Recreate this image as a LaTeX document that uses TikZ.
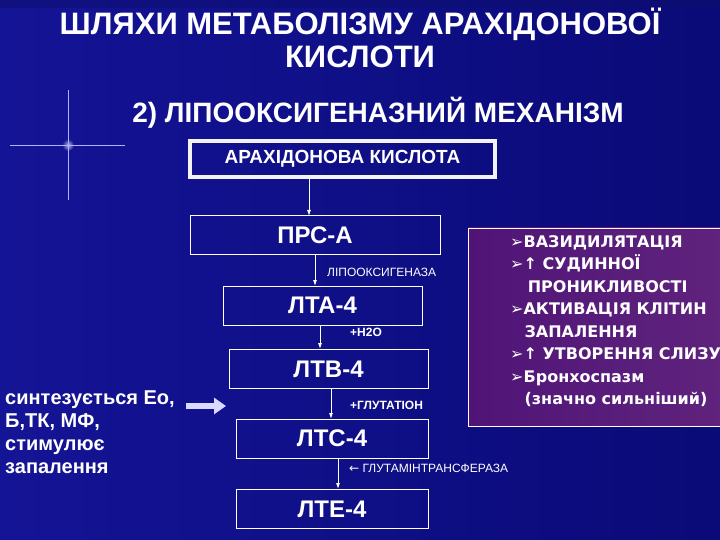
\documentclass[tikz,border=0pt]{standalone}
\usepackage{fontspec}
\setmainfont{Liberation Sans}
\newfontfamily\dvs{DejaVu Sans}
\usetikzlibrary{arrows.meta}
\definecolor{bgl}{RGB}{20,20,150}
\definecolor{bgr}{RGB}{10,10,120}
\definecolor{bgt}{RGB}{14,14,110}
\definecolor{pl}{RGB}{80,20,120}
\definecolor{pr}{RGB}{95,35,125}
\begin{document}
\begin{tikzpicture}[x=1pt,y=-1pt,
  box/.style={draw=white,line width=0.9pt,fill=none,minimum width=#1,minimum height=39pt,inner sep=0pt,text=white,font=\bfseries\fontsize{24}{26}\selectfont},
  box/.default=200pt,
  flow/.style={draw=white,line width=0.9pt,-{Latex[length=6pt,width=4pt]}},
  lbl/.style={anchor=west,text=white,font=\bfseries\fontsize{12}{14}\selectfont,inner sep=0pt}]
\useasboundingbox (0,0) rectangle (720,540);
\shade[left color=bgl,right color=bgr] (0,0) rectangle (720,540);
\fill[bgt,opacity=0.5] (0,0) rectangle (720,8);
% sparkle
\shade[inner color=white,outer color=bgl,opacity=0.7] (68,145) circle (6);
\draw[white!70!blue,line width=0.6pt] (10,145) -- (125,145) (68,90) -- (68,200);
% title
\node[text=white,font=\bfseries\fontsize{31}{33}\selectfont,align=center] (t) at (360,38) {ШЛЯХИ МЕТАБОЛІЗМУ АРАХІДОНОВОЇ\\КИСЛОТИ};
\node[text=white,font=\bfseries\fontsize{28}{30}\selectfont] (st) at (378,113) {2) ЛІПООКСИГЕНАЗНИЙ МЕХАНІЗМ};
% boxes
\node[draw=white!90!gray,line width=4pt,minimum width=305pt,minimum height=36pt,inner sep=0pt,text=white,font=\bfseries\fontsize{19}{21}\selectfont] (ak) at (342.5,159) {АРАХІДОНОВА КИСЛОТА};
\node[box=250pt] (prs) at (315,235) {ПРС-А};
\node[box=199pt] (lta) at (322.5,305.5) {ЛТА-4};
\node[box=199pt] (ltb) at (328.5,369) {ЛТВ-4};
\node[box=192pt] (ltc) at (332,438.5) {ЛТС-4};
\node[box=192pt] (lte) at (332,509) {ЛТЕ-4};
\draw[flow] (309,178) -- (309,216);
\draw[flow] (315,254) -- (315,286);
\draw[flow] (320,325) -- (320,349);
\draw[flow] (331,389) -- (331,419);
\draw[flow] (338,458) -- (338,489);
\node[lbl,font=\fontsize{12}{14}\selectfont] (l1) at (327,272) {ЛІПООКСИГЕНАЗА};
\node[lbl] (l2) at (350,332) {+H2O};
\node[lbl] (l3) at (350,405) {+ГЛУТАТІОН};
\node[lbl,font=\fontsize{12}{14}\selectfont] (l4) at (349,468) {{\dvs ←}\ ГЛУТАМІНТРАНСФЕРАЗА};
% purple box
\shade[left color=pl,right color=pr,draw=white] (468,228) rectangle (722,426);
\node[anchor=north west,text=white,align=left,inner sep=0pt,font=\dvs\bfseries\fontsize{16}{22.5}\selectfont] (list) at (510,235) {
➢ВАЗИДИЛЯТАЦІЯ\\
➢↑ СУДИННОЇ\\
\hspace*{1.1em}ПРОНИКЛИВОСТІ\\
➢АКТИВАЦІЯ КЛІТИН\\
\hspace*{0.9em}ЗАПАЛЕННЯ\\
➢↑ УТВОРЕННЯ СЛИЗУ\\
➢Бронхоспазм\\
\hspace*{0.9em}(значно сильніший)};
% left text
\node[anchor=north west,text=white,align=left,inner sep=0pt,font=\bfseries\fontsize{20}{23}\selectfont] (side) at (5,391) {синтезується Ео,\\Б,ТК, МФ,\\стимулює\\запалення};
\coordinate (as) at (186,406);
\draw[line width=6pt,white!85!blue,-{Triangle[length=12pt,width=16pt]}] (as) -- (226,406);
\end{tikzpicture}
\end{document}
